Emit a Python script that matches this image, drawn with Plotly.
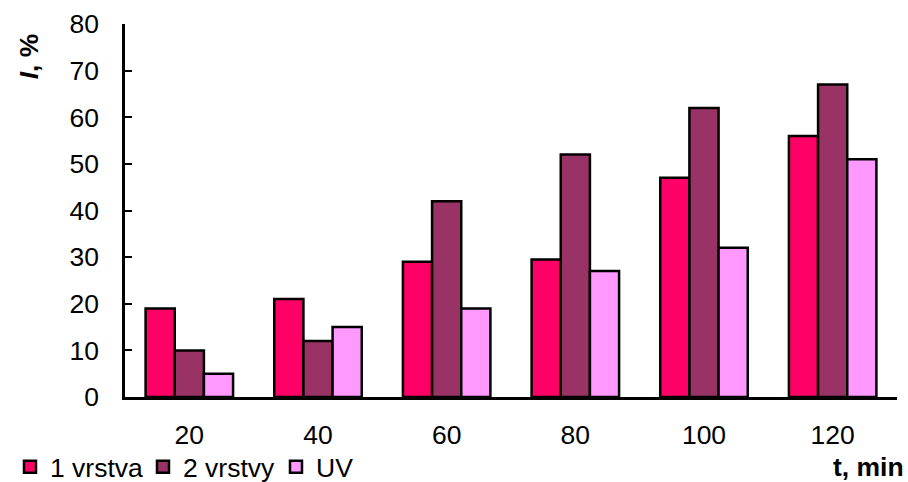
import plotly.graph_objects as go

# Exposure time categories (min)
times = ["20", "40", "60", "80", "100", "120"]

# Values of I, % for each treatment
vrstva_1 = [19, 21, 29, 29.5, 47, 56]
vrstvy_2 = [10, 12, 42, 52, 62, 67]
uv = [5, 15, 19, 27, 32, 51]

series = [
    ("1 vrstva", vrstva_1, "#FF0066"),
    ("2 vrstvy", vrstvy_2, "#993366"),
    ("UV", uv, "#FF99FF"),
]

FONT = "Liberation Sans, Arial, sans-serif"
FS = 26.5

fig = go.Figure()
for name, vals, color in series:
    fig.add_trace(go.Bar(
        x=times, y=vals, name=name,
        marker=dict(color=color, line=dict(color="black", width=2.5)),
    ))

fig.update_layout(
    width=908, height=482,
    margin=dict(l=125, r=11, t=24, b=85, autoexpand=False),
    paper_bgcolor="white", plot_bgcolor="white",
    font=dict(family=FONT, size=FS, color="black"),
    barmode="group", bargap=0.32, bargroupgap=0,
    showlegend=True,
    legend=dict(
        orientation="h", xref="container", yref="container",
        x=0.011, y=0.031, xanchor="left", yanchor="middle",
        font=dict(family=FONT, size=FS), entrywidth=88,
        itemwidth=30, tracegroupgap=0, bgcolor="rgba(0,0,0,0)",
    ),
    xaxis=dict(
        type="category", showline=True, linecolor="black", linewidth=2.5,
        ticks="", showgrid=False, tickfont=dict(size=FS),
        range=[-0.5, 5.5], ticklabelstandoff=12, automargin=False,
    ),
    yaxis=dict(
        range=[0, 80], dtick=10, showline=True, linecolor="black",
        linewidth=2.5, ticks="inside", ticklen=7, tickwidth=2,
        tickcolor="black", showgrid=False, zeroline=False,
        tickfont=dict(size=FS), ticklabelstandoff=18, automargin=False,
    ),
    annotations=[
        dict(text="<b><i>I</i>, %</b>", xref="paper", yref="paper",
             x=-0.124, y=0.914, textangle=-90, showarrow=False,
             xanchor="center", yanchor="middle", font=dict(size=FS)),
        dict(text="<b>t, min</b>", xref="paper", yref="paper",
             x=1.0115, y=-0.188, xanchor="right", yanchor="middle",
             showarrow=False, font=dict(size=FS)),
    ],
)

fig.write_html("out.html")
